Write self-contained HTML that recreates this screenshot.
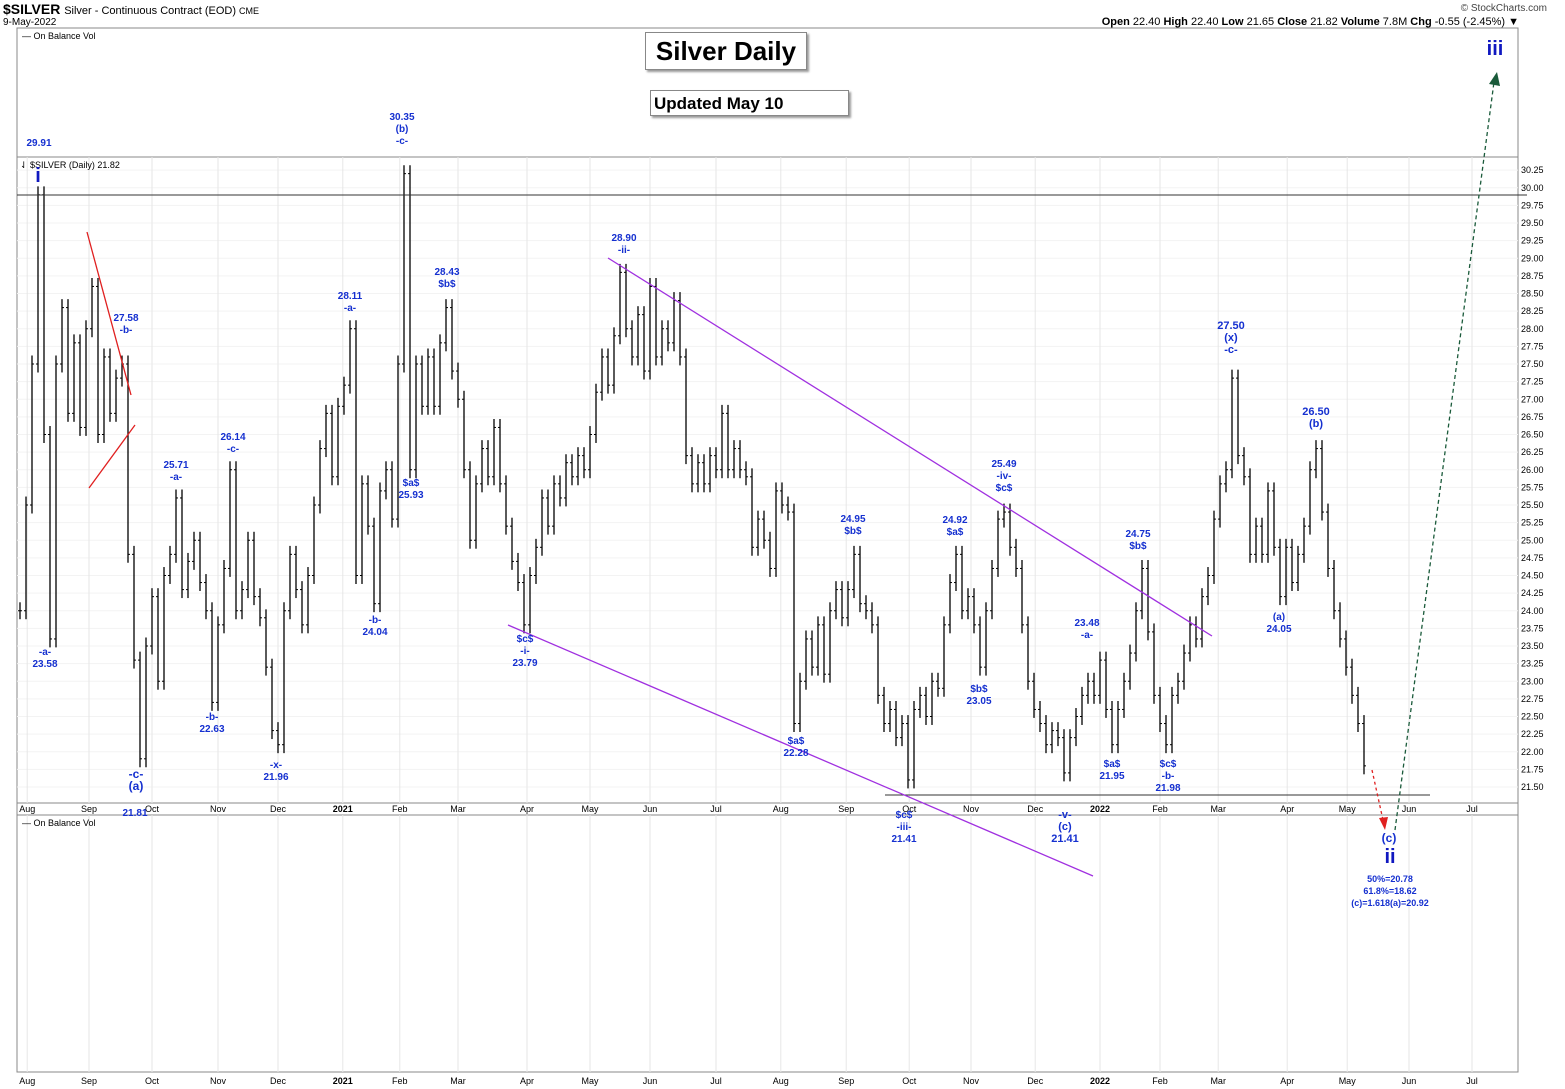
<!DOCTYPE html>
<html><head><meta charset="utf-8">
<style>
body{margin:0;background:#fff;font-family:"Liberation Sans",sans-serif;}
#wrap{position:relative;width:1565px;height:1089px;overflow:hidden;background:#fff}
.t{position:absolute;white-space:nowrap}
.a{position:absolute;color:#1530d0;font-weight:bold;font-size:10px;transform:translateX(-50%);white-space:nowrap;text-align:center;line-height:12px}
</style></head><body>
<div id="wrap">
<div class="t" style="left:3px;top:1px;font-size:14px;font-weight:bold">$SILVER <span style="font-weight:normal;font-size:11px">Silver - Continuous Contract (EOD) <span style="font-size:9px">CME</span></span></div>
<div class="t" style="left:3px;top:17px;font-size:10px">9-May-2022</div>
<div class="t" style="right:18px;top:3px;font-size:10px;color:#444">© StockCharts.com</div>
<div class="t" style="right:46px;top:16px;font-size:11px"><b>Open</b> 22.40 <b>High</b> 22.40 <b>Low</b> 21.65 <b>Close</b> 21.82 <b>Volume</b> 7.8M <b>Chg</b> -0.55 (-2.45%) ▼</div>
<svg id="svg" width="1565" height="1089" style="position:absolute;left:0;top:0"></svg>
<div class="t" style="left:645px;top:32px;width:160px;height:36px;border:1px solid #888;box-shadow:2px 2px 2px #999;background:#fff;font-size:26px;font-weight:bold;text-align:center;line-height:36px">Silver Daily</div>
<div class="t" style="left:650px;top:90px;width:199px;height:26px;border:1px solid #888;box-shadow:2px 2px 2px #999;background:#fff;font-size:17px;font-weight:bold;line-height:26px;padding-left:3px;box-sizing:border-box">Updated May 10</div>
<div id="ann"></div>
</div>
<script>
const closes=[24.0,25.5,27.5,29.9,26.5,23.6,27.5,28.3,26.8,27.8,
26.6,28.0,28.6,26.5,27.6,26.8,27.3,27.5,24.8,23.3,
21.9,23.5,24.2,23.0,24.5,24.8,25.6,24.3,24.7,25.0,
24.4,24.0,22.7,23.8,24.6,26.0,24.0,24.3,25.0,24.2,
23.9,23.2,22.3,22.1,24.0,24.8,24.3,23.8,24.5,25.5,
26.3,26.8,25.9,26.9,27.2,28.0,24.5,25.8,25.2,24.1,
25.7,26.0,25.3,27.5,30.2,26.0,27.5,26.9,27.6,26.9,
27.8,28.3,27.4,27.0,26.0,25.0,25.8,26.3,25.9,26.6,
25.8,25.2,24.7,24.4,23.8,24.5,24.9,25.6,25.2,25.8,
25.6,26.1,25.9,26.2,26.0,26.5,27.1,27.6,27.2,27.9,
28.8,28.0,27.6,28.2,27.4,28.6,27.6,28.0,27.8,28.4,
27.6,26.2,25.8,26.1,25.8,26.2,26.0,26.8,26.0,26.3,
26.0,25.9,24.9,25.3,25.0,24.6,25.7,25.5,25.4,22.4,
23.0,23.6,23.2,23.8,23.1,24.0,24.3,23.9,24.3,24.8,
24.1,24.0,23.8,22.8,22.4,22.6,22.2,22.4,21.6,22.6,
22.8,22.5,23.0,22.9,23.8,24.4,24.8,24.0,24.2,23.8,
23.2,24.0,24.6,25.3,25.4,24.9,24.6,23.8,23.0,22.6,
22.4,22.1,22.3,22.2,21.7,22.2,22.5,22.8,23.0,22.8,
23.3,22.6,22.1,22.6,23.0,23.4,24.0,24.6,23.7,22.8,
22.4,22.1,22.8,23.0,23.4,23.8,23.6,24.2,24.5,25.3,
25.8,26.0,27.3,26.2,25.9,24.8,25.2,24.8,25.7,24.9,
24.2,24.9,24.4,24.8,25.2,26.0,26.3,25.4,24.6,24.0,
23.6,23.2,22.8,22.4,21.8];
const yTicks=[21.5,21.75,22,22.25,22.5,22.75,23,23.25,23.5,23.75,24,24.25,24.5,24.75,25,25.25,25.5,25.75,26,26.25,26.5,26.75,27,27.25,27.5,27.75,28,28.25,28.5,28.75,29,29.25,29.5,29.75,30,30.25];
const months=["Aug","Sep","Oct","Nov","Dec","2021","Feb","Mar","Apr","May","Jun","Jul","Aug","Sep","Oct","Nov","Dec","2022","Feb","Mar","Apr","May","Jun","Jul"];
const monthIdx=[1.2,11.5,22,33,43,53.8,63.3,73,84.5,95,105,116,126.8,137.7,148.2,158.5,169.2,180,190,199.7,211.2,221.2,231.5,242];
const NS="http://www.w3.org/2000/svg";
const svg=document.getElementById('svg');
const X=i=>20+i*6.0;
const Y=p=>787-(p-21.5)*70.5;
function el(t,a,name,parent){const e=document.createElementNS(NS,t);for(const k in a)e.setAttribute(k,a[k]);


(parent||svg).appendChild(e);return e;}
el('rect',{x:17,y:28,width:1501,height:1044,fill:'none',stroke:'#888'},'outer-frame');
el('line',{x1:17,y1:157,x2:1518,y2:157,stroke:'#888'},'panel-divider-top');
el('line',{x1:17,y1:803,x2:1518,y2:803,stroke:'#888'},'panel-divider-bottom');
el('line',{x1:17,y1:815,x2:1518,y2:815,stroke:'#888'},'panel-divider-obv');
yTicks.forEach(v=>{el('line',{x1:17,x2:1518,y1:Y(v),y2:Y(v),stroke:'#f3f3f3'},'grid-h');
const t=el('text',{x:1521,y:Y(v)+3,'font-size':9,fill:'#000'},'y-tick-label');t.textContent=v.toFixed(2);});
months.forEach((m,k)=>{const x=X(monthIdx[k]);
el('line',{x1:x,x2:x,y1:157,y2:803,stroke:'#e6e6e6'},'grid-v');
el('line',{x1:x,x2:x,y1:815,y2:1072,stroke:'#e6e6e6'},'grid-v-obv');
let t=el('text',{x:x,y:812,'font-size':9,'text-anchor':'middle','font-weight':m.length==4?'bold':'normal'},'x-tick-label');t.textContent=m;
t=el('text',{x:x,y:1084,'font-size':9,'text-anchor':'middle','font-weight':m.length==4?'bold':'normal'},'x-tick-label-bottom');t.textContent=m;});
let t=el('text',{x:22,y:39,'font-size':9},'obv-top-label');t.textContent='— On Balance Vol';
t=el('text',{x:22,y:826,'font-size':9},'obv-bottom-label');t.textContent='— On Balance Vol';
t=el('text',{x:20,y:168,'font-size':9},'series-label');t.textContent='⇃ $SILVER (Daily) 21.82';
closes.forEach((c,i)=>{const p=i?closes[i-1]:c;const hi=Math.max(p,c)+0.12,lo=Math.min(p,c)-0.12;const x=X(i);
el('line',{x1:x,x2:x,y1:Math.max(160,Y(hi)),y2:Y(lo),stroke:'#000','stroke-width':1.3},'price-bar');
el('line',{x1:x-2,x2:x,y1:Y(p),y2:Y(p),stroke:'#000','stroke-width':1},'open-tick');
el('line',{x1:x,x2:x+2,y1:Y(c),y2:Y(c),stroke:'#000','stroke-width':1},'close-tick');});
el('line',{x1:17,y1:195,x2:1527,y2:195,stroke:'#333'},'resistance-line');
el('line',{x1:885,y1:795,x2:1430,y2:795,stroke:'#333'},'support-line');
el('line',{x1:608,y1:258,x2:1212,y2:636,stroke:'#a030e0','stroke-width':1.3},'upper-channel');
el('line',{x1:508,y1:625,x2:1093,y2:876,stroke:'#a030e0','stroke-width':1.3},'lower-channel');
el('line',{x1:87,y1:232,x2:131,y2:395,stroke:'#e02020','stroke-width':1.3},'triangle-upper');
el('line',{x1:89,y1:488,x2:135,y2:425,stroke:'#e02020','stroke-width':1.3},'triangle-lower');
el('line',{x1:1395,y1:830,x2:1494,y2:82,stroke:'#1a5a3a','stroke-width':1.3,'stroke-dasharray':'4,3'},'projection-up');
el('path',{d:'M1489,84 L1497,72 L1500,86 Z',fill:'#1a5a3a'},'projection-up-arrow');
el('line',{x1:1372,y1:770,x2:1383,y2:820,stroke:'#e02020','stroke-width':1.3,'stroke-dasharray':'3,3'},'projection-down');
el('path',{d:'M1379,818 L1385,830 L1388,817 Z',fill:'#e02020'},'projection-down-arrow');
const ann=[[39,138,'29.91',10],[38,167,'i',20],[45,647,'-a-<br>23.58',10],[126,313,'27.58<br>-b-',10],[136,768,'-c-<br>(a)',12],[135,808,'21.81',10],
[176,460,'25.71<br>-a-',10],[212,712,'-b-<br>22.63',10],[233,432,'26.14<br>-c-',10],[276,760,'-x-<br>21.96',10],[350,291,'28.11<br>-a-',10],[375,615,'-b-<br>24.04',10],
[402,112,'30.35<br>(b)<br>-c-',10],[411,478,'$a$<br>25.93',10],[447,267,'28.43<br>$b$',10],[525,634,'$c$<br>-i-<br>23.79',10],[624,233,'28.90<br>-ii-',10],
[796,736,'$a$<br>22.28',10],[853,514,'24.95<br>$b$',10],[904,810,'$c$<br>-iii-<br>21.41',10],[955,515,'24.92<br>$a$',10],[979,684,'$b$<br>23.05',10],[1004,459,'25.49<br>-iv-<br>$c$',10],
[1065,809,'-v-<br>(c)<br>21.41',11],[1087,618,'23.48<br>-a-',10],[1112,759,'$a$<br>21.95',10],[1138,529,'24.75<br>$b$',10],[1168,759,'$c$<br>-b-<br>21.98',10],[1231,320,'27.50<br>(x)<br>-c-',11],
[1279,612,'(a)<br>24.05',10],[1316,406,'26.50<br>(b)',11],[1389,832,'(c)',12],[1390,848,'ii',20],[1390,873,'50%=20.78<br>61.8%=18.62<br>(c)=1.618(a)=20.92',9],[1495,40,'iii',20]];
const A=document.getElementById('ann');
ann.forEach(a=>{const d=document.createElement('div');d.className='a';d.style.left=a[0]+'px';d.style.top=a[1]+'px';d.style.fontSize=a[3]+'px';
if(a[3]>=20){d.style.lineHeight='18px';d.style.color='#1018c0';}
d.innerHTML=a[2];


A.appendChild(d);});
</script>
</body></html>
